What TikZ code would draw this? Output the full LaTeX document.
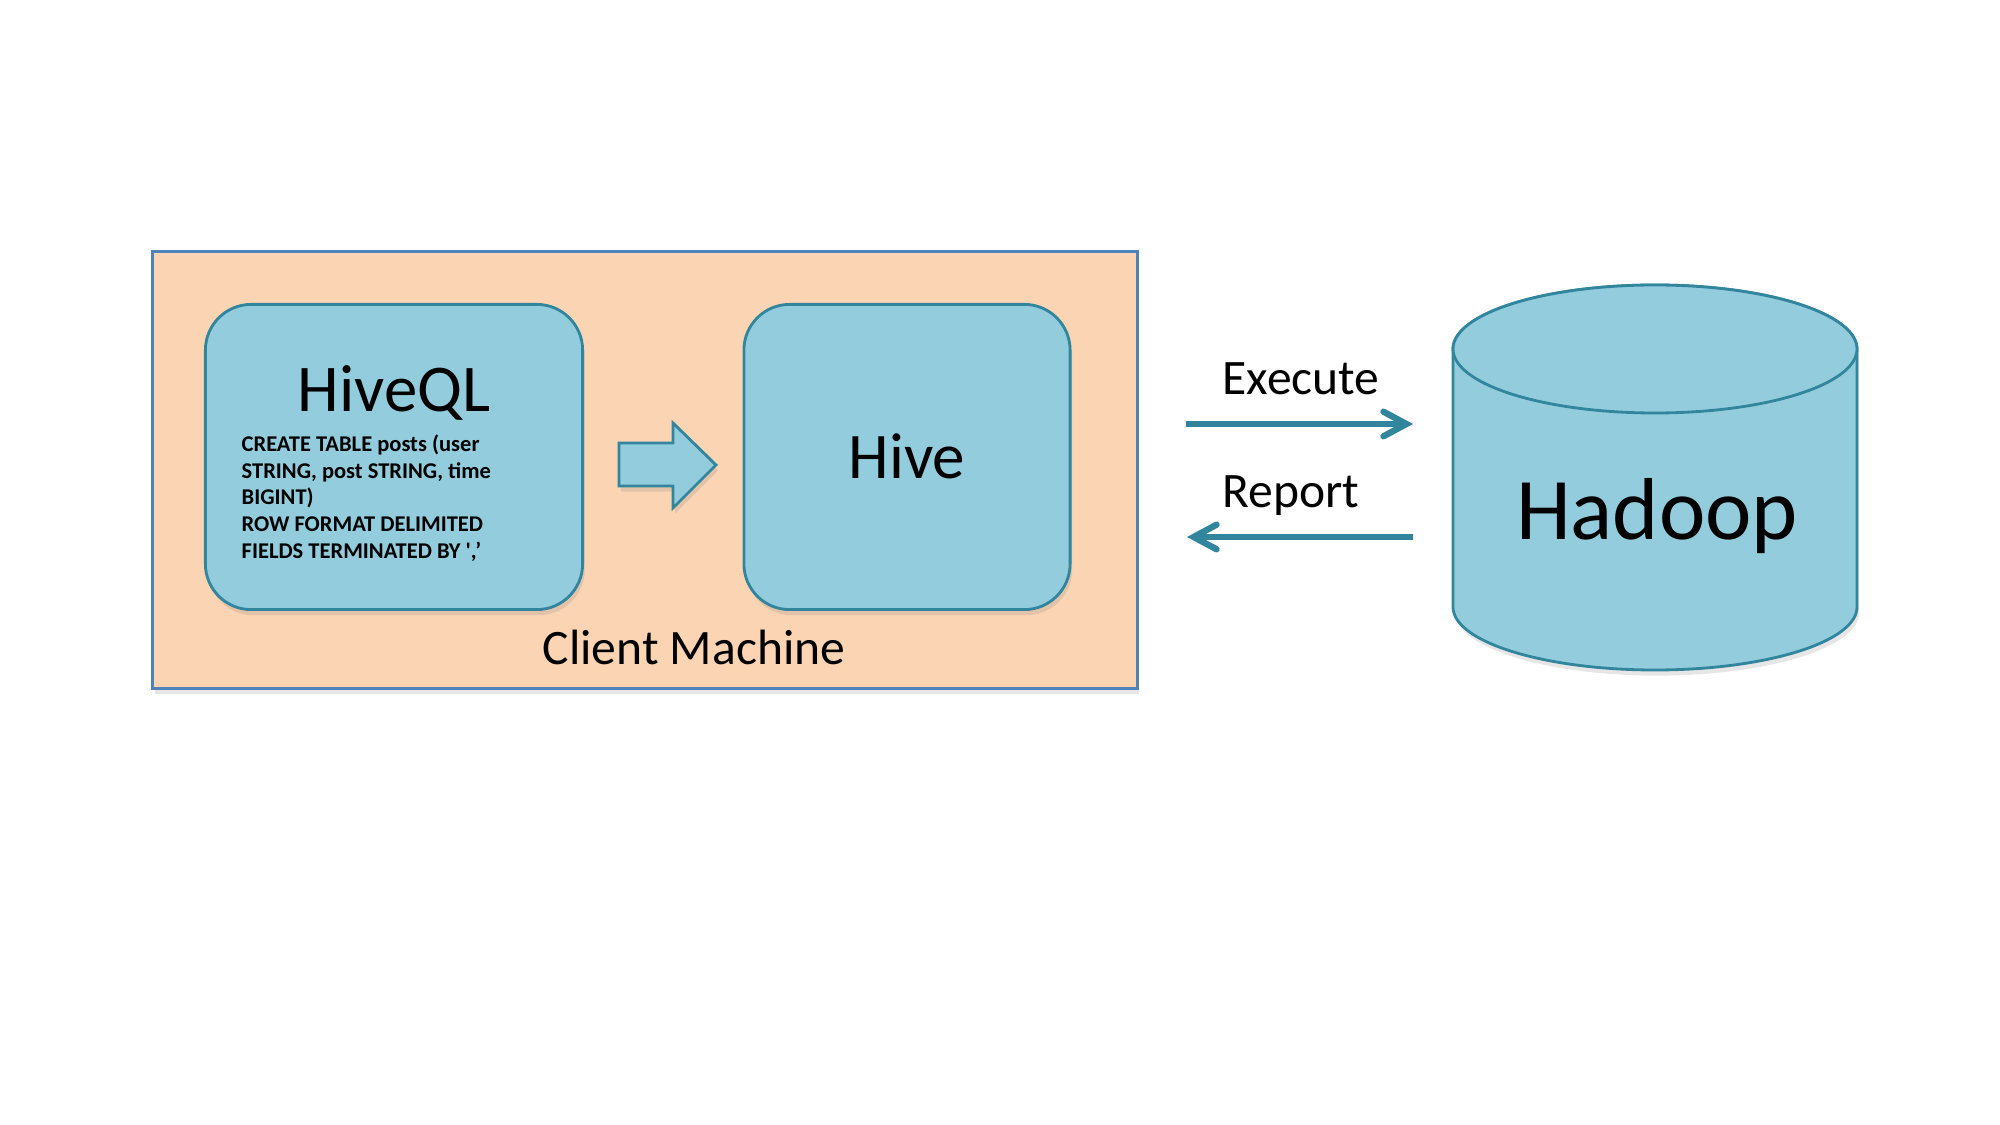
\documentclass[tikz,border=0pt]{standalone}
\usepackage{fontspec}
\setmainfont{Carlito}
\usetikzlibrary{arrows.meta,shadows}

\definecolor{peach}{HTML}{FBD4B4}
\definecolor{clientline}{HTML}{4F81BD}
\definecolor{boxfill}{HTML}{93CDDD}
\definecolor{boxline}{HTML}{31859C}

\tikzset{
  softshadow/.style={drop shadow={opacity=0.2,shadow xshift=0.6pt,shadow yshift=-1.6pt}},
  roundbox/.style={draw=boxline,line width=0.8pt,fill=boxfill,rounded corners=13pt,softshadow},
  flowarrow/.style={draw=boxline,line width=1.8pt,
    -{Straight Barb[length=6.5pt,width=7pt,line cap=round]}},
  arrowlbl/.style={anchor=base west,inner sep=0pt,font=\fontsize{14.1}{17}\selectfont},
}

\begin{document}
\begin{tikzpicture}[x=0.01cm,y=-0.01cm]
  \useasboundingbox (0,0) rectangle (2000,1125);

  % client machine
  \node[draw=clientline,line width=0.8pt,fill=peach,softshadow,
        minimum width=9.84cm,minimum height=4.36cm] (client) at (645,470) {};
  \node[anchor=base,font=\fontsize{14.1}{17}\selectfont] (clientlbl) at (694,665) {Client Machine};

  \node[roundbox,minimum width=3.77cm,minimum height=3.05cm] (hiveql) at (394,457) {};
  \node[anchor=base,font=\fontsize{19}{22}\selectfont] (hiveqllbl) at (394,412) {HiveQL};
  \node[anchor=north west,align=left,inner sep=0pt,
        font=\bfseries\fontsize{6.4}{7.6}\selectfont] (query) at (241,434)
    {CREATE TABLE posts (user\\STRING, post STRING, time\\BIGINT)\\ROW FORMAT DELIMITED\\FIELDS TERMINATED BY \textquotesingle,’};

  \node[roundbox,minimum width=3.26cm,minimum height=3.05cm] (hive) at (907,457) {};
  \node[anchor=base,font=\fontsize{18.5}{22}\selectfont] (hivelbl) at (907,479) {Hive};

  % block arrow between the boxes
  \draw[draw=boxline,line width=0.8pt,fill=boxfill,softshadow,line join=miter]
    (619,443) -- (673,443) -- (673,423) -- (716,465) -- (673,508) -- (673,486) -- (619,486) -- cycle;

  % hadoop cylinder
  \draw[draw=boxline,line width=0.8pt,fill=boxfill,softshadow]
    (1453,349) -- (1453,607) arc[start angle=180,end angle=0,x radius=202,y radius=63]
    -- (1857,349) arc[start angle=0,end angle=-180,x radius=202,y radius=64] -- cycle;
  \draw[draw=boxline,line width=0.8pt,fill=boxfill] (1655,349) ellipse[x radius=202,y radius=64];
  \node[anchor=base,font=\fontsize{25}{29}\selectfont] (hadoop) at (1657,540) {Hadoop};

  % execute / report
  \coordinate (execfrom) at (1186,424);
  \coordinate (execto) at (1413,424);
  \coordinate (repfrom) at (1413,537);
  \coordinate (repto) at (1187,537);
  \draw[flowarrow] (execfrom) -- (execto);
  \draw[flowarrow] (repfrom) -- (repto);
  \node[arrowlbl] (execlbl) at (1222,395) {Execute};
  \node[arrowlbl] (replbl) at (1222,508) {Report};
\end{tikzpicture}
\end{document}
